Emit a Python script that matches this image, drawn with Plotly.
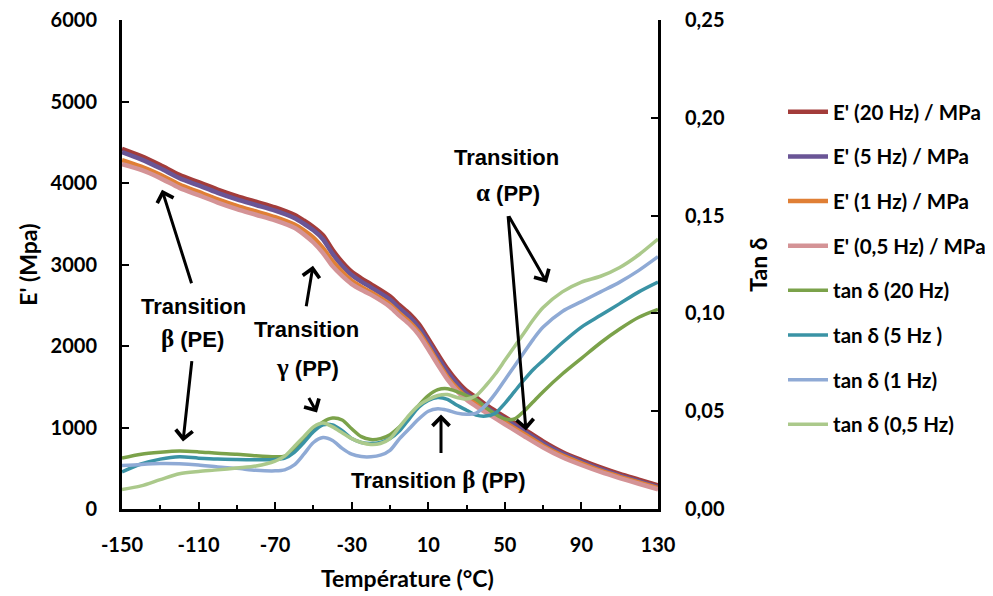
import plotly.graph_objects as go

# ---------------- data ----------------
temp_E = [-150, -140, -130, -120, -110, -100, -90, -80, -70, -60, -55, -50, -45, -40, -35, -30, -25, -20,
          -10, -5, 0, 5, 10, 15, 20, 25, 30, 35, 40, 50, 60, 70, 80, 90, 100, 110, 120, 130]
E_20Hz = [4420, 4330, 4220, 4100, 4010, 3920, 3840, 3770, 3700, 3610, 3540, 3460, 3360, 3180, 3030, 2910, 2830, 2760,
          2610, 2500, 2400, 2270, 2090, 1900, 1720, 1570, 1450, 1370, 1280, 1130, 980, 830, 700, 600, 510, 430, 360, 290]
E_5Hz = [4380, 4290, 4180, 4060, 3970, 3880, 3800, 3730, 3660, 3570, 3500, 3420, 3310, 3130, 2985, 2870, 2790, 2720,
         2570, 2460, 2360, 2230, 2050, 1860, 1680, 1535, 1415, 1335, 1250, 1100, 955, 805, 680, 580, 490, 410, 340, 270]
E_1Hz = [4280, 4200, 4100, 3980, 3890, 3800, 3720, 3650, 3580, 3490, 3420, 3330, 3200, 3040, 2910, 2800, 2725, 2660,
         2510, 2400, 2300, 2170, 1990, 1800, 1620, 1480, 1370, 1290, 1210, 1065, 920, 775, 655, 560, 470, 395, 325, 255]
E_05Hz = [4230, 4160, 4060, 3940, 3850, 3760, 3680, 3610, 3540, 3450, 3370, 3270, 3140, 2980, 2860, 2760, 2690, 2630,
          2480, 2370, 2270, 2140, 1960, 1770, 1590, 1450, 1340, 1260, 1185, 1040, 895, 755, 635, 540, 455, 380, 310, 240]

temp_tan = [-150, -140, -130, -120, -110, -100, -90, -80, -70, -65, -60, -55, -50, -45, -40, -35, -30, -25, -20, -15,
            -10, -5, 0, 5, 10, 15, 20, 25, 30, 35, 40, 45, 50, 55, 60, 65, 70, 80, 90, 100, 110, 120, 130]
tan_20Hz = [0.026, 0.028, 0.029, 0.0296, 0.0292, 0.0285, 0.028, 0.0272, 0.0267, 0.027, 0.030, 0.035, 0.040, 0.0445,
            0.0465, 0.0455, 0.041, 0.037, 0.0355, 0.036, 0.038, 0.042, 0.047, 0.053, 0.058, 0.061, 0.0615, 0.060,
            0.058, 0.056, 0.052, 0.0485, 0.046, 0.046, 0.050, 0.055, 0.060, 0.069, 0.077, 0.085, 0.092, 0.098, 0.102]
tan_5Hz = [0.019, 0.023, 0.0255, 0.0267, 0.026, 0.0255, 0.0253, 0.0252, 0.0253, 0.026, 0.029, 0.034, 0.0395, 0.043,
           0.043, 0.040, 0.036, 0.034, 0.0335, 0.034, 0.036, 0.040, 0.046, 0.052, 0.0555, 0.057, 0.056, 0.053,
           0.0505, 0.048, 0.0475, 0.049, 0.054, 0.060, 0.066, 0.0715, 0.076, 0.085, 0.093, 0.099, 0.105, 0.111, 0.116]
tan_1Hz = [0.0222, 0.0228, 0.0232, 0.0231, 0.0225, 0.0215, 0.0208, 0.0198, 0.0195, 0.020, 0.0225, 0.028, 0.034,
           0.0365, 0.035, 0.031, 0.028, 0.0268, 0.0267, 0.0275, 0.030, 0.036, 0.041, 0.046, 0.050, 0.0513, 0.0505,
           0.049, 0.0484, 0.049, 0.053, 0.059, 0.066, 0.073, 0.080, 0.087, 0.093, 0.101, 0.106, 0.111, 0.116, 0.122, 0.129]
tan_05Hz = [0.010, 0.0118, 0.015, 0.018, 0.0192, 0.020, 0.021, 0.022, 0.0245, 0.027, 0.032, 0.037, 0.042, 0.044,
            0.042, 0.039, 0.036, 0.034, 0.033, 0.0335, 0.036, 0.042, 0.048, 0.053, 0.056, 0.058, 0.0585, 0.057,
            0.0562, 0.058, 0.063, 0.069, 0.076, 0.083, 0.090, 0.097, 0.103, 0.111, 0.116, 0.119, 0.1235, 0.130, 0.138]

names = ["E' (20 Hz) / MPa", "E' (5 Hz) / MPa", "E' (1 Hz) / MPa", "E' (0,5 Hz) / MPa",
         "tan δ (20 Hz)", "tan δ (5 Hz )", "tan δ (1 Hz)", "tan δ (0,5 Hz)"]
colors = ["#A33C3A", "#6A5596", "#E07F35", "#D49396", "#7BA24A", "#3A93A5", "#8FAAD5", "#ABC98B"]

x_major = [-150, -110, -70, -30, 10, 50, 90, 130]
x_minor = [-130, -90, -50, -10, 30, 70, 110]
y_ticks = [0, 1000, 2000, 3000, 4000, 5000, 6000]
y_ticktext = ["0", "1000", "2000", "3000", "4000", "5000", "6000"]
y2_ticks = [0, 0.05, 0.10, 0.15, 0.20, 0.25]
y2_ticktext = ["0,00", "0,05", "0,10", "0,15", "0,20", "0,25"]

# ---------------- layout geometry (reference pixel coords; page body has 8px margin) ----------------
OFF = 8
W, H = 993 - OFF, 596 - OFF
L, R, T, B = 122, 658, 20, 509.5   # plot area in reference pixels


def px(xp):
    return (xp - L) / (R - L)


def py(yp):
    return (B - yp) / (B - T)


FONT = "Lato"
ANN_FONT = "Liberation Sans"
GREEK = "Liberation Serif"

fig = go.Figure()
E_series = [E_20Hz, E_5Hz, E_1Hz, E_05Hz]
tan_series = [tan_20Hz, tan_5Hz, tan_1Hz, tan_05Hz]
for i, s in enumerate(E_series):
    fig.add_trace(go.Scatter(x=temp_E, y=s, name=names[i], mode="lines", legendgroup=f"g{i}",
                             line=dict(color=colors[i], width=4.5, shape="spline", smoothing=0.8)))
for j, s in enumerate(tan_series):
    i = j + 4
    fig.add_trace(go.Scatter(x=temp_tan, y=s, name=names[i], mode="lines", yaxis="y2", legendgroup=f"g{i}",
                             line=dict(color=colors[i], width=3.5, shape="spline", smoothing=0.8)))

tickfont = dict(family=FONT, size=20, color="black", weight="bold")
fig.update_layout(
    width=W, height=H,
    margin=dict(l=L - OFF, r=W - (R - OFF), t=T - OFF, b=H - (B - OFF), autoexpand=False),
    paper_bgcolor="white", plot_bgcolor="white",
    showlegend=True,
    legend=dict(x=px(783), xanchor="left", y=py(92), yanchor="top",
                font=dict(family=FONT, size=20.5, color="black", weight="bold"),
                itemwidth=40,
                tracegroupgap=15, traceorder="grouped", bgcolor="rgba(0,0,0,0)"),
    xaxis=dict(range=[-150, 130], tickvals=x_major, ticktext=[str(v) for v in x_major],
               ticks="inside", ticklen=7, tickwidth=2, tickcolor="black",
               showline=True, linecolor="black", linewidth=3, showgrid=False, zeroline=False,
               tickfont=tickfont, ticklabelstandoff=16, ticklabeloverflow="allow",
               minor=dict(tickvals=x_minor, ticks="inside", ticklen=4, tickwidth=2, tickcolor="black", showgrid=False)),
    yaxis=dict(range=[0, 6000], tickvals=y_ticks, ticktext=y_ticktext,
               ticks="inside", ticklen=7, tickwidth=2, tickcolor="black",
               showline=True, linecolor="black", linewidth=3, showgrid=False, zeroline=False,
               tickfont=tickfont, ticklabelstandoff=18, ticklabeloverflow="allow"),
    yaxis2=dict(range=[0, 0.25], tickvals=y2_ticks, ticktext=y2_ticktext, overlaying="y", side="right",
                ticks="inside", ticklen=7, tickwidth=2, tickcolor="black",
                showline=True, linecolor="black", linewidth=3, showgrid=False, zeroline=False,
                tickfont=tickfont, ticklabelstandoff=20, ticklabeloverflow="allow"),
)

# axis titles
titlefont = dict(family=FONT, size=23, color="black", weight="bold")
fig.add_annotation(x=px(407), y=py(579), xref="paper", yref="paper", text="Température (°C)",
                   showarrow=False, font=titlefont, xanchor="center", yanchor="middle")
fig.add_annotation(x=px(28), y=py(265), xref="paper", yref="paper", text="E' (Mpa)", textangle=-90,
                   showarrow=False, font=titlefont, xanchor="center", yanchor="middle")
fig.add_annotation(x=px(758), y=py(265), xref="paper", yref="paper", text="Tan δ", textangle=-90,
                   showarrow=False, font=titlefont, xanchor="center", yanchor="middle")

# transition labels
annfont = dict(family=ANN_FONT, size=22, color="black", weight="bold")


def g(ch):
    return f'<span style="font-family:{GREEK};font-size:25px">{ch}</span>'


labels = [
    ("Transition", 193, 307), (g("β") + " (PE)", 192, 339),
    ("Transition", 306, 330), (g("γ") + " (PP)", 307, 368),
    ("Transition " + g("β") + " (PP)", 438, 480),
    ("Transition", 506, 158), (g("α") + " (PP)", 508, 193),
]
for text, xx, yy in labels:
    fig.add_annotation(x=px(xx), y=py(yy), xref="paper", yref="paper", text=text, showarrow=False,
                       font=annfont, xanchor="center", yanchor="middle")

# arrows: (tail_x, tail_y, head_x, head_y) in reference pixels
arrows = [
    (192, 285, 162, 190),
    (192, 360, 183, 442),
    (306, 308, 313, 266),
    (308, 397, 317, 413),
    (441, 455, 441, 415),
    (508, 215, 547, 283),
    (508, 215, 526, 431),
]
for tx, ty, hx, hy in arrows:
    fig.add_annotation(x=px(hx), y=py(hy), xref="paper", yref="paper", text="",
                       showarrow=True, ax=tx - hx, ay=ty - hy, axref="pixel", ayref="pixel",
                       arrowhead=4, arrowsize=1.1, arrowwidth=3, arrowcolor="black", standoff=0, startstandoff=0)

fig.write_html("out.html")
